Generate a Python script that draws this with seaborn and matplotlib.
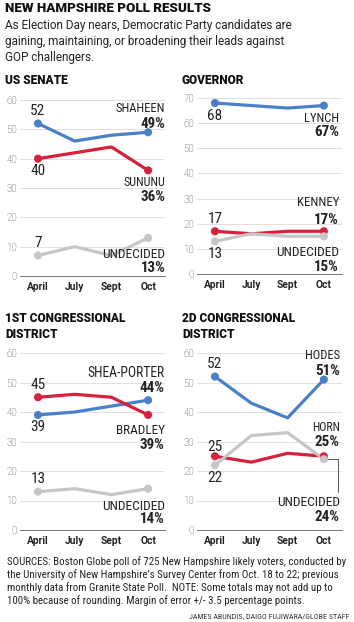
import numpy as np
import pandas as pd
import matplotlib
matplotlib.use('Agg')
import matplotlib.pyplot as plt
import seaborn as sns
from matplotlib import font_manager

# ---- data ----
months = ['April', 'July', 'Sept', 'Oct']

senate_shaheen = [52, 46, 48, 49]
senate_sununu = [40, 42, 44, 36]
senate_undecided = [7, 10, 7, 13]

gov_lynch = [68, 67, 66, 67]
gov_kenney = [17, 16, 17, 17]
gov_undecided = [13, 16, 15, 15]

cd1_shea_porter = [39, 40, 42, 44]
cd1_bradley = [45, 46, 45, 39]
cd1_undecided = [13, 14, 12, 14]

cd2_hodes = [52, 43, 38, 51]
cd2_horn = [25, 23, 26, 25]
cd2_undecided = [22, 32, 33, 24]

BLUE = '#4a80c8'
RED = '#d7203b'
GRAY = '#c6c6c6'

# pick a condensed face if the machine has one
entries = font_manager.fontManager.ttflist
names = {f.name for f in entries}
NARROW, STRETCH = 'Liberation Sans', 'normal'
for cand in ['Liberation Sans Narrow', 'Roboto Condensed', 'Open Sans Condensed',
             'DejaVu Sans Condensed', 'Noto Sans Condensed']:
    if cand in names:
        NARROW = cand
        break
else:
    cond = [f.name for f in entries if f.stretch in ('condensed', 'semi-condensed')]
    if cond:
        NARROW, STRETCH = cond[0], 'condensed'
MAIN = 'Roboto'

sns.set_theme(style='white')
plt.rcParams['font.family'] = [MAIN, 'DejaVu Sans']

W, H = 354, 622
fig = plt.figure(figsize=(W / 100, H / 100), dpi=100)
renderer = fig.canvas.get_renderer()


def px_axes(left, top, right, bottom):
    return fig.add_axes([left / W, 1 - bottom / H, (right - left) / W, (bottom - top) / H])


def ftext(x, y, s, **kw):
    return fig.text(x / W, 1 - y / H, s, **kw)


def fit_width(t, width_px):
    # shrink a text until it is no wider than width_px
    w = t.get_window_extent(renderer).width
    if w > width_px:
        t.set_fontsize(t.get_fontsize() * width_px / w)


def panel(ax, series, ymax, xlim, xend, start_offsets, end_labels):
    df = pd.concat([pd.DataFrame({'month': range(4), 'value': vals, 'who': name})
                    for name, vals, col in series])
    palette = {name: col for name, vals, col in series}
    sns.lineplot(data=df, x='month', y='value', hue='who', palette=palette,
                 linewidth=2.3, legend=False, ax=ax, zorder=3)
    ends = df[df['month'].isin([0, 3])]
    sns.scatterplot(data=ends, x='month', y='value', hue='who', palette=palette,
                    s=34, edgecolor='none', legend=False, ax=ax, zorder=4)
    ax.set_ylim(0, ymax)
    ax.set_xlim(*xlim)
    ax.set_yticks(range(0, ymax + 1, 10))
    ax.set_xticks(range(4))
    ax.set_xticklabels(months, fontsize=7.4, fontweight='bold', color='#222')
    ax.set_xlabel('')
    ax.set_ylabel('')
    ax.grid(axis='y', color='#dcdcdc', linewidth=0.6)
    ax.grid(axis='x', visible=False)
    for s in ['top', 'right', 'left']:
        ax.spines[s].set_visible(False)
    ax.spines['bottom'].set_color('#777')
    ax.spines['bottom'].set_linewidth(0.7)
    ax.tick_params(axis='y', length=0, pad=2, labelsize=7, labelcolor='#444')
    ax.tick_params(axis='x', direction='in', length=3, color='#bbb', width=0.6, pad=4)
    for yl in ax.get_yticklabels():
        yl.set_fontweight('light')
    ax.set_facecolor('none')

    for (name, vals, col), off in zip(series, start_offsets):
        ax.annotate(str(vals[0]), (0, vals[0]), xytext=(0, off), textcoords='offset points',
                    ha='center', va='center', fontsize=11, family=NARROW,
                    fontstretch=STRETCH, color='#222')
    for label, pct, y1, y2 in end_labels:
        t = ax.text(xend, y1, label, ha='right', va='center', fontsize=9.8,
                    family=NARROW, fontstretch=STRETCH, color='#222')
        fit_width(t, len(label) * 7)
        ax.text(xend, y2, pct, ha='right', va='center', fontsize=10.8,
                family=NARROW, fontstretch=STRETCH, fontweight='bold', color='#222')


# header
ftext(5, 8, 'NEW HAMPSHIRE POLL RESULTS', fontsize=9.6, fontweight='black',
      va='center', color='#111')
for i, line in enumerate(['As Election Day nears, Democratic Party candidates are',
                          'gaining, maintaining, or broadening their leads against',
                          'GOP challengers.']):
    ftext(5, 25 + i * 16.2, line, fontsize=8.5, va='center', color='#222')

# US Senate
ftext(5, 81, 'US SENATE', fontsize=8.6, fontweight='black', va='center', color='#111')
ax1 = px_axes(20, 100, 165, 276)
panel(ax1,
      [('SHAHEEN', senate_shaheen, BLUE), ('SUNUNU', senate_sununu, RED),
       ('UNDECIDED', senate_undecided, GRAY)],
      60, (-0.49, 3.46), 3.47, [9, -9, 9],
      [('SHAHEEN', '49%', 57, 51.9), ('SUNUNU', '36%', 31.9, 26.8),
       ('UNDECIDED', '13%', 7.5, 2.7)])

# Governor
ftext(182, 81, 'GOVERNOR', fontsize=8.6, fontweight='black', va='center', color='#111')
ax2 = px_axes(197, 98, 342, 274)
panel(ax2,
      [('LYNCH', gov_lynch, BLUE), ('KENNEY', gov_kenney, RED),
       ('UNDECIDED', gov_undecided, GRAY)],
      70, (-0.495, 3.5), 3.42, [-9, 9, -9],
      [('LYNCH', '67%', 62, 56.4), ('KENNEY', '17%', 28.4, 21.6),
       ('UNDECIDED', '15%', 8.4, 2.8)])

# 1st district
ftext(5, 318, '1ST CONGRESSIONAL', fontsize=8.6, fontweight='black', va='center', color='#111')
ftext(5, 334, 'DISTRICT', fontsize=8.6, fontweight='black', va='center', color='#111')
ax3 = px_axes(20, 353, 165, 530)
panel(ax3,
      [('SHEA-PORTER', cd1_shea_porter, BLUE), ('BRADLEY', cd1_bradley, RED),
       ('UNDECIDED', cd1_undecided, GRAY)],
      60, (-0.49, 3.46), 3.45, [-9, 9, 9],
      [('SHEA-PORTER', '44%', 53.2, 48.1), ('BRADLEY', '39%', 33.6, 28.8),
       ('UNDECIDED', '14%', 8.1, 3.7)])

# 2nd district
ftext(182, 318, '2D CONGRESSIONAL', fontsize=8.6, fontweight='black', va='center', color='#111')
ftext(182, 334, 'DISTRICT', fontsize=8.6, fontweight='black', va='center', color='#111')
ax4 = px_axes(197, 353, 342, 530)
panel(ax4,
      [('HODES', cd2_hodes, BLUE), ('HORN', cd2_horn, RED),
       ('UNDECIDED', cd2_undecided, GRAY)],
      60, (-0.495, 3.5), 3.44, [9, 7, -9],
      [('HODES', '51%', 59, 53.9), ('HORN', '25%', 34.9, 29.8),
       ('UNDECIDED', '24%', 9.2, 4.4)])
ax4.plot([3.1, 3.38, 3.38], [cd2_undecided[-1], cd2_undecided[-1], 12.8],
         color='#555', linewidth=0.7, clip_on=False, zorder=2)

# footer
footer = ['SOURCES: Boston Globe poll of 725 New Hampshire likely voters, conducted by',
          'the University of New Hampshire\u2019s Survey Center from Oct. 18 to 22; previous',
          'monthly data from Granite State Poll.  NOTE: Some totals may not add up to',
          '100% because of rounding. Margin of error +/- 3.5 percentage points.']
ftexts = [ftext(7, 562 + i * 12.8, line, fontsize=7.8, family=NARROW, fontstretch=STRETCH,
                va='center', color='#222') for i, line in enumerate(footer)]
w0 = ftexts[0].get_window_extent(renderer).width
if w0 > 341:
    for t in ftexts:
        t.set_fontsize(7.8 * 341 / w0)
ftext(349, 616, 'JAMES ABUNDIS, DAIGO FUJIWARA/GLOBE STAFF', fontsize=5.8,
      family=NARROW, fontstretch=STRETCH, ha='right', va='center', color='#333')

fig.savefig('out.png', dpi=100, facecolor='white')
